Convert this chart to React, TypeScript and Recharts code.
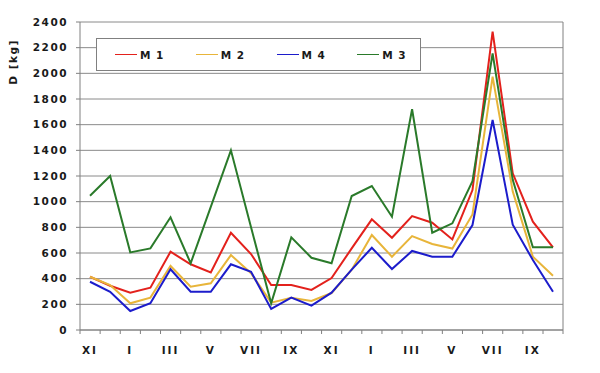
import React from "react";
import { LineChart, Line, XAxis, YAxis, CartesianGrid, Legend } from "recharts";

if (typeof document !== "undefined") document.body.style.margin = "0";

// two seasons, November to October
const MONTHS = [
  "XI", "XII", "I", "II", "III", "IV", "V", "VI", "VII", "VIII", "IX", "X",
  "XI", "XII", "I", "II", "III", "IV", "V", "VI", "VII", "VIII", "IX", "X",
];

const M1 = [415, 345, 290, 330, 610, 512, 449, 758, 592, 351, 351, 312, 405, 636, 862, 719, 888, 836, 706, 1090, 2325, 1221, 844, 644];
const M2 = [415, 350, 208, 252, 499, 337, 364, 584, 442, 213, 252, 226, 288, 470, 740, 571, 732, 670, 635, 900, 1974, 1080, 571, 423];
const M4 = [376, 298, 148, 208, 473, 298, 298, 512, 454, 164, 252, 190, 291, 470, 641, 475, 616, 571, 571, 818, 1636, 820, 545, 298];
const M3 = [1046, 1200, 605, 636, 878, 520, 960, 1400, 800, 208, 722, 563, 520, 1044, 1122, 883, 1720, 758, 831, 1160, 2156, 1170, 644, 644];

const LEFT_TICKS = [0, 200, 400, 600, 800, 1000, 1200, 1400, 1600, 1800, 2000, 2200, 2400];
const RIGHT_TICKS = [0, 10, 20, 30, 40, 50, 60];

const SERIES = [
  { key: "M1", label: "M 1", color: "#E3211C", values: M1 },
  { key: "M2", label: "M 2", color: "#E8B53A", values: M2 },
  { key: "M4", label: "M 4", color: "#1C1CCB", values: M4 },
  { key: "M3", label: "M 3", color: "#2A7A2A", values: M3 },
];

const data = MONTHS.map((month, i) => {
  const row: Record<string, string | number> = { month };
  SERIES.forEach((s) => {
    row[s.key] = s.values[i];
  });
  return row;
});

const AXIS = "#808080";
const TEXT = "#1a1a1a";
const FONT = "DejaVu Sans, Verdana, sans-serif";

const tickStyle = {
  fontSize: 10.5,
  fontWeight: 700,
  fill: TEXT,
  fontFamily: FONT,
  letterSpacing: 1.5,
};

function MonthTick(props: any) {
  const { x, y, payload, index, visibleTicksCount } = props;
  const half = 10;
  const isLast = index === (visibleTicksCount ?? MONTHS.length) - 1;
  return (
    <g>
      <line x1={x - half} x2={x - half} y1={y} y2={y + 4} stroke={AXIS} />
      {isLast && (
        <line x1={x + half} x2={x + half} y1={y} y2={y + 4} stroke={AXIS} />
      )}
      {index % 2 === 0 && (
        <text x={x} y={y + 24} textAnchor="middle" {...tickStyle} letterSpacing={2}>
          {payload.value}
        </text>
      )}
    </g>
  );
}

function LegendBox() {
  return (
    <div
      style={{
        width: 323,
        height: 31,
        border: "1px solid #808080",
        background: "#fff",
        display: "flex",
        alignItems: "center",
        boxSizing: "content-box",
      }}
    >
      {SERIES.map((s) => (
        <div
          key={s.key}
          style={{ display: "flex", alignItems: "center", marginLeft: 18, width: 63 }}
        >
          <span
            style={{ display: "inline-block", width: 22, height: 1.5, background: s.color }}
          />
          <span
            style={{
              marginLeft: 3,
              fontSize: 10.5,
              fontWeight: 700,
              fontFamily: FONT,
              color: TEXT,
              letterSpacing: 1,
              whiteSpace: "pre",
            }}
          >
            {s.label}
          </span>
        </div>
      ))}
    </div>
  );
}

export default function App() {
  return (
    <div style={{ width: 600, height: 373, background: "#fff" }}>
      <LineChart
        width={600}
        height={373}
        data={data}
        margin={{ top: 22, right: 0, bottom: 0, left: 0 }}
      >
        <CartesianGrid
          yAxisId="left"
          vertical={false}
          stroke="#8a8a8a"
          strokeWidth={1}
        />
        <XAxis
          dataKey="month"
          height={43}
          interval={0}
          padding={{ left: 10, right: 10 }}
          tickSize={0}
          tickMargin={0}
          tickLine={false}
          axisLine={{ stroke: AXIS }}
          tick={<MonthTick />}
        />
        <YAxis
          yAxisId="left"
          width={80}
          domain={[0, 2400]}
          ticks={LEFT_TICKS}
          interval={0}
          tickSize={4}
          tickMargin={8}
          axisLine={{ stroke: AXIS }}
          tickLine={{ stroke: AXIS }}
          tick={tickStyle}
          label={{
            content: ({ viewBox }: any) => (
              <text
                x={0}
                y={0}
                transform={`translate(${viewBox.x + 17}, ${viewBox.y + 40}) rotate(-90)`}
                textAnchor="middle"
                {...tickStyle}
              >
                D [kg]
              </text>
            ),
          }}
        />
        <YAxis
          yAxisId="right"
          orientation="right"
          width={37}
          domain={[0, 60]}
          ticks={RIGHT_TICKS}
          interval={0}
          tickSize={4}
          tickMargin={7}
          axisLine={{ stroke: AXIS }}
          tickLine={{ stroke: AXIS }}
          tick={{ ...tickStyle, textAnchor: "start" }}
        />
        <Legend
          layout="horizontal"
          verticalAlign="middle"
          align="center"
          wrapperStyle={{ left: 96, top: 38, width: 325 }}
          content={() => <LegendBox />}
        />
        {SERIES.map((s) => (
          <Line
            key={s.key}
            yAxisId="left"
            type="linear"
            dataKey={s.key}
            name={s.label}
            stroke={s.color}
            strokeWidth={2}
            dot={false}
            activeDot={false}
            isAnimationActive={false}
          />
        ))}
      </LineChart>
    </div>
  );
}
